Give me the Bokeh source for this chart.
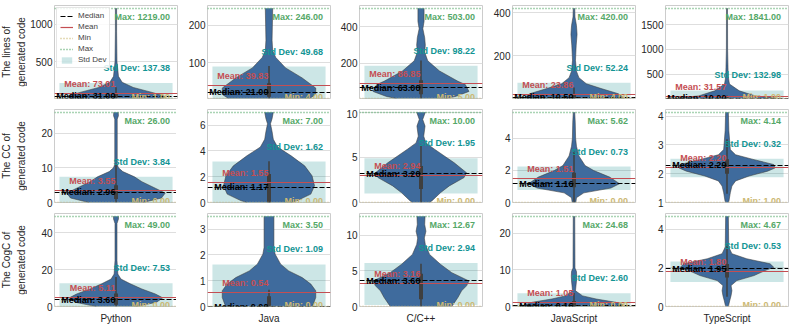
import math
from bokeh.plotting import figure
from bokeh.layouts import gridplot
from bokeh.models import Range1d, FixedTicker, Legend, LegendItem
from bokeh.core.properties import value
from bokeh.embed import file_html
from bokeh.resources import INLINE

languages = ["Python", "Java", "C/C++", "JavaScript", "TypeScript"]
metrics = ["The lines of\ngenerated code", "The CC of\ngenerated code", "The CogC of\ngenerated code"]

median_vals = [[31.00, 21.00, 63.00, 10.50, 10.00],
               [2.96, 1.17, 3.20, 1.16, 2.29],
               [3.60, 0.00, 3.60, 0.16, 1.95]]
mean_vals = [[73.01, 39.83, 86.85, 23.86, 31.57],
             [3.55, 1.55, 2.94, 1.51, 2.20],
             [5.11, 0.54, 3.16, 1.05, 1.80]]
min_vals = [[1.00, 4.00, 5.00, 4.00, 1.00],
            [0.00, 0.00, 0.00, 0.00, 1.00],
            [0.00, 0.00, 0.00, 0.00, 0.00]]
max_vals = [[1219.00, 246.00, 503.00, 420.00, 1841.00],
            [26.00, 7.00, 10.00, 5.62, 4.14],
            [49.00, 3.50, 12.67, 24.68, 4.67]]
std_vals = [[137.38, 49.68, 98.22, 52.24, 132.98],
            [3.84, 1.62, 1.95, 0.73, 0.32],
            [7.53, 1.09, 2.94, 2.60, 0.53]]

# inner box (quartiles and whiskers)
q1_vals = [[15, 9, 28, 5, 4], [1, 0, 1.5, 0.95, 2.0], [1, 0, 1.0, 0, 1.5]]
q3_vals = [[70, 45, 105, 25, 28], [5, 2.2, 4.05, 1.85, 2.5], [7, 0.4, 4.6, 1.5, 2.2]]
wlo_vals = [[1, 4, 5, 4, 1], [0, 0, 0, 0, 1.3], [0, 0, 0, 0, 0.5]]
whi_vals = [[152, 91, 215, 55, 63], [11, 3.2, 6.25, 3.2, 3.2], [16, 0.65, 6, 3.7, 3.2]]

# violin density profiles: value levels and half widths
violin_y = [
    [[1, 20, 40, 80, 150, 220, 300, 500, 900, 1219],
     [4, 15, 32, 59, 86, 114, 132, 160, 246],
     [5, 16, 44, 82, 100, 157, 213, 260, 300, 340, 390, 430, 503],
     [4, 10, 26, 50, 72, 100, 130, 180, 250, 300, 340, 380, 420],
     [1, 10, 54, 157, 296, 450, 1000, 1841]],
    [[0, 1.3, 2.7, 4.1, 6, 7.4, 8.9, 10, 11, 24, 25, 26],
     [0, 0.15, 0.65, 1.3, 2.07, 2.84, 3.62, 4.3, 4.9, 5.5, 6.1, 6.5, 7],
     [0, 0.2, 1.1, 1.84, 2.76, 3.3, 4.4, 5.15, 5.9, 6.6, 7.35, 8.46, 9.2, 10],
     [0, 0.3, 0.6, 0.9, 1.17, 1.58, 1.99, 2.3, 2.9, 3.5, 4.0, 5.0, 5.62],
     [1.0, 1.05, 1.34, 1.57, 1.75, 1.92, 2.09, 2.2, 2.32, 2.49, 2.66, 2.84, 3.5, 4.14]],
    [[0, 0.5, 2.3, 4.7, 6.8, 9.5, 12.2, 14.9, 17.6, 25, 45, 47.5, 49],
     [0, 0.09, 0.35, 0.61, 0.87, 1.12, 1.38, 1.64, 2.03, 2.29, 3.5],
     [0, 1.26, 2.2, 2.9, 3.58, 4.75, 5.9, 7.3, 8.7, 9.6, 10.55, 11.5, 12.67],
     [0, 0.45, 1.15, 2.05, 2.9, 4.3, 7, 8.3, 9.6, 10.5, 24.68],
     [0, 0.05, 0.3, 0.56, 0.82, 1.08, 1.34, 1.6, 1.86, 2.03, 2.21, 2.47, 2.73, 3.08, 4.67]],
]
violin_w = [
    [[0.36, 0.40, 0.38, 0.30, 0.14, 0.05, 0.02, 0.008, 0.005, 0.005],
     [0.33, 0.38, 0.38, 0.27, 0.135, 0.055, 0.03, 0.025, 0.03],
     [0.2, 0.28, 0.39, 0.36, 0.30, 0.15, 0.055, 0.03, 0.035, 0.03, 0.015, 0.025, 0.025],
     [0.40, 0.40, 0.36, 0.22, 0.10, 0.04, 0.02, 0.012, 0.018, 0.025, 0.02, 0.008, 0.006],
     [0.35, 0.40, 0.23, 0.10, 0.02, 0.01, 0.005, 0.004]],
    [[0.22, 0.37, 0.40, 0.32, 0.21, 0.15, 0.055, 0.02, 0.01, 0.01, 0.02, 0.018],
     [0.18, 0.23, 0.34, 0.37, 0.35, 0.29, 0.18, 0.07, 0.035, 0.025, 0.012, 0.025, 0.035],
     [0.07, 0.09, 0.16, 0.23, 0.35, 0.37, 0.27, 0.19, 0.11, 0.04, 0.022, 0.033, 0.014, 0.035],
     [0.015, 0.02, 0.08, 0.3, 0.37, 0.29, 0.16, 0.09, 0.04, 0.02, 0.013, 0.01, 0.006],
     [0.01, 0.016, 0.027, 0.04, 0.07, 0.18, 0.33, 0.39, 0.38, 0.22, 0.07, 0.027, 0.015, 0.011]],
    [[0.16, 0.2, 0.33, 0.38, 0.32, 0.21, 0.12, 0.04, 0.015, 0.008, 0.008, 0.02, 0.02],
     [0.35, 0.36, 0.38, 0.38, 0.34, 0.27, 0.16, 0.095, 0.05, 0.04, 0.04],
     [0.25, 0.3, 0.33, 0.37, 0.39, 0.25, 0.16, 0.07, 0.035, 0.027, 0.04, 0.03, 0.033],
     [0.38, 0.40, 0.34, 0.18, 0.07, 0.012, 0.02, 0.022, 0.02, 0.008, 0.006],
     [0.01, 0.013, 0.022, 0.033, 0.04, 0.033, 0.08, 0.22, 0.31, 0.38, 0.35, 0.16, 0.04, 0.014, 0.011]],
]

yticks = [[[500, 1000], [100, 200], [200, 400], [200, 400], [500, 1000, 1500]],
          [[0, 10, 20], [0, 2, 4, 6], [0, 5, 10], [0, 2, 4], [1, 2, 3, 4]],
          [[0, 20, 40], [0, 1, 2, 3], [0, 5, 10], [0, 10, 20], [0, 2, 4]]]

FONT = "Liberation Sans"
VIOLIN = "#3f6b9d"
C_MED = "black"
C_MEAN = "#c44e52"
C_MIN = "#ccb974"
C_MAX = "#55a868"
C_STD = "#129494"
TEXT_C = "#262626"
LABEL_W = 27
BORDER_LEFT = [25, 29, 28, 29, 29]
FRAME_W = 123
FRAME_H = 93
ROW_GAP = 11
TOP = 5


def label_strip(r):
    last = r == 2
    p = figure(frame_width=LABEL_W, frame_height=FRAME_H, output_backend="svg",
               toolbar_location=None, x_range=Range1d(0, 1), y_range=Range1d(0, 1),
               min_border_left=0, min_border_right=0, min_border_top=TOP if r == 0 else 0,
               min_border_bottom=0 if last else ROW_GAP)
    p.axis.visible = False
    p.grid.visible = False
    p.outline_line_color = None
    p.text(x=[0.5], y=[0.5], text=[metrics[r]], angle=math.pi / 2,
           text_align="center", text_baseline="middle", text_font=value(FONT),
           text_font_size="10px", text_color=TEXT_C, text_line_height=1.3)
    return p


def panel(r, c):
    lo, hi = min_vals[r][c], max_vals[r][c]
    last = r == 2
    p = figure(frame_width=FRAME_W, frame_height=FRAME_H, output_backend="svg",
               toolbar_location=None,
               x_range=Range1d(-0.5, 0.5), y_range=Range1d(lo, hi + 0.03 * (hi - lo)),
               min_border_left=BORDER_LEFT[c], min_border_right=1,
               min_border_top=TOP if r == 0 else 0,
               min_border_bottom=0 if last else ROW_GAP)
    p.outline_line_color = "#cccccc"
    p.outline_line_width = 1
    p.xgrid.visible = False
    p.ygrid.grid_line_color = "#dedede"
    p.ygrid.grid_line_width = 1
    p.yaxis.ticker = FixedTicker(ticks=yticks[r][c])
    p.yaxis.axis_line_color = None
    p.yaxis.major_tick_line_color = None
    p.yaxis.minor_tick_line_color = None
    p.yaxis.major_tick_out = 0
    p.yaxis.major_tick_in = 0
    p.yaxis.minor_tick_out = 0
    p.yaxis.minor_tick_in = 0
    p.yaxis.major_label_standoff = 2
    p.yaxis.major_label_text_font = FONT
    p.yaxis.major_label_text_font_size = "10px"
    p.yaxis.major_label_text_color = TEXT_C
    if last:
        p.xaxis.ticker = FixedTicker(ticks=[])
        p.xaxis.axis_line_color = None
        p.xaxis.major_tick_line_color = None
        p.xaxis.minor_tick_line_color = None
        p.xaxis.major_tick_out = 0
        p.xaxis.major_tick_in = 0
        p.xaxis.minor_tick_out = 0
        p.xaxis.minor_tick_in = 0
        p.xaxis.major_label_text_font_size = "0px"
        p.xaxis.axis_label = languages[c]
        p.xaxis.axis_label_text_font = FONT
        p.xaxis.axis_label_text_font_size = "10px"
        p.xaxis.axis_label_text_font_style = "normal"
        p.xaxis.axis_label_text_color = TEXT_C
        p.xaxis.axis_label_standoff = 6
    else:
        p.xaxis.visible = False

    mean, std = mean_vals[r][c], std_vals[r][c]
    band = p.quad(left=-0.46, right=0.46, bottom=mean - std, top=mean + std,
                  fill_color="teal", fill_alpha=0.2, line_color=None)

    ys = violin_y[r][c]
    ws = violin_w[r][c]
    neg = [-w for w in ws]
    p.harea(x1=neg, x2=ws, y=ys, fill_color=VIOLIN)
    p.line(neg, ys, line_color="#3a3a3a", line_alpha=0.55, line_width=1)
    p.line(ws, ys, line_color="#3a3a3a", line_alpha=0.55, line_width=1)
    p.segment(x0=[0], y0=[wlo_vals[r][c]], x1=[0], y1=[whi_vals[r][c]],
              line_color="#3f3f3f", line_width=1.5)
    p.segment(x0=[0], y0=[q1_vals[r][c]], x1=[0], y1=[q3_vals[r][c]],
              line_color="#3f3f3f", line_width=4)

    med = p.hspan(y=[median_vals[r][c]], line_color=C_MED, line_dash="5 2", line_width=1.2)
    mn = p.hspan(y=[mean], line_color=C_MEAN, line_width=1.2)
    mi = p.hspan(y=[lo], line_color=C_MIN, line_dash="1 2", line_width=1.3)
    ma = p.hspan(y=[hi], line_color=C_MAX, line_dash="1 2", line_width=1.3)

    common = dict(text_font=value(FONT), text_font_style="bold", text_font_size="9px",
                  text_baseline="middle")
    p.text(x=[0.44], y=[hi], text=["Max: %.2f" % hi], text_align="right", y_offset=9,
           text_color=C_MAX, **common)
    p.text(x=[0.44], y=[mean + std], text=["Std Dev: %.2f" % std], text_align="right",
           y_offset=-15, text_color=C_STD, **common)
    p.text(x=[-0.005], y=[mean], text=["Mean: %.2f" % mean], text_align="right",
           y_offset=-9.5, text_color=C_MEAN, **common)
    p.text(x=[-0.005], y=[median_vals[r][c]], text=["Median: %.2f" % median_vals[r][c]],
           text_align="right", y_offset=0, text_color=C_MED, **common)
    p.text(x=[0.44], y=[lo], text=["Min: %.2f" % lo], text_align="right", y_offset=-2,
           text_color=C_MIN, **common)

    if r == 0 and c == 0:
        legend = Legend(items=[LegendItem(label="Median", renderers=[med]),
                               LegendItem(label="Mean", renderers=[mn]),
                               LegendItem(label="Min", renderers=[mi]),
                               LegendItem(label="Max", renderers=[ma]),
                               LegendItem(label="Std Dev", renderers=[band])],
                        location="top_left")
        legend.label_text_font = FONT
        legend.label_text_font_size = "8px"
        legend.label_height = 8
        legend.glyph_height = 8
        legend.glyph_width = 13
        legend.label_standoff = 5
        legend.spacing = 2
        legend.padding = 3
        legend.margin = 2
        legend.border_line_color = "#cccccc"
        legend.background_fill_alpha = 0.85
        p.add_layout(legend)
    return p


grid = [[label_strip(r)] + [panel(r, c) for c in range(5)] for r in range(3)]
layout = gridplot(grid, toolbar_location=None)

open("out.html", "w").write(file_html(layout, INLINE))
